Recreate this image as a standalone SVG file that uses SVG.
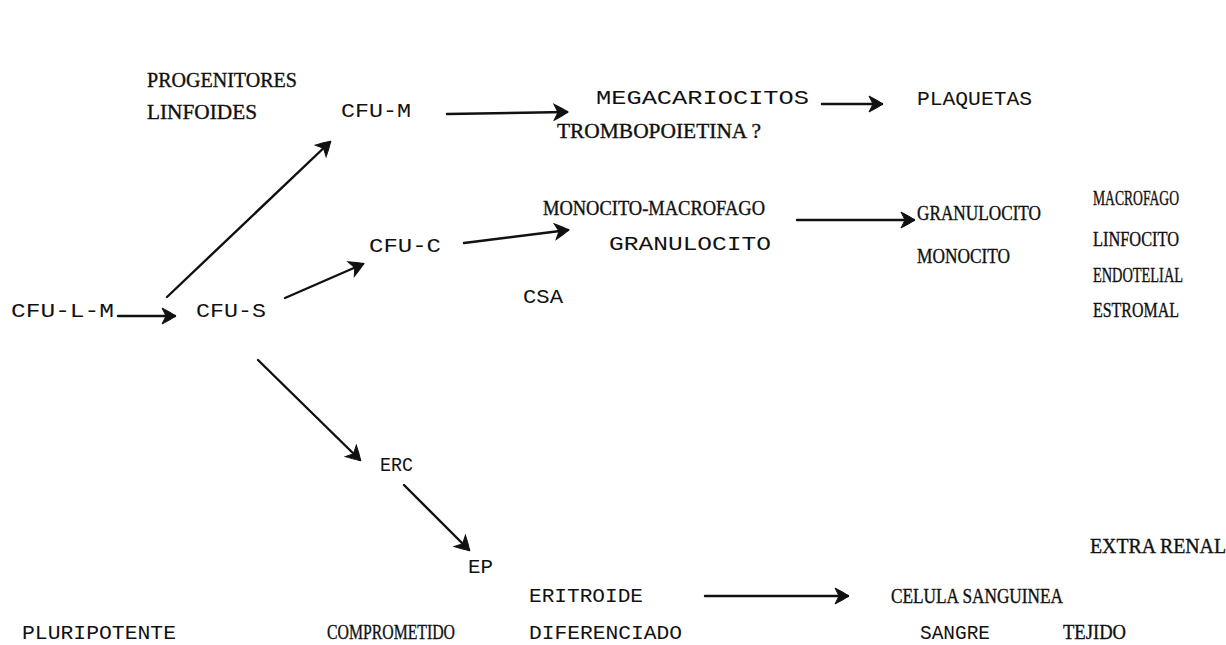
<svg xmlns="http://www.w3.org/2000/svg" width="1226" height="645" viewBox="0 0 1226 645">
<style>
text{font-family:"Liberation Serif","DejaVu Serif",serif;font-size:20px;fill:#111;stroke:#111;stroke-width:0.35;}
.m{font-family:"Liberation Mono","DejaVu Sans Mono",monospace;stroke-width:0;}
.c{stroke:#111;stroke-width:2.4;fill:none;stroke-linecap:round;}
</style>
<defs>
<marker id="ah" viewBox="0 0 18 18" refX="16" refY="9" markerWidth="18" markerHeight="18" markerUnits="userSpaceOnUse" orient="auto">
<path d="M3,1 Q11,5 17,9 Q11,13 3,17 Q5,13 7,9 Q5,5 3,1 Z" fill="#111" stroke="#111" stroke-width="1"/>
</marker>
</defs>
<rect width="1226" height="645" fill="#fff"/>
<g id="connectors">
<line class="c" x1="447" y1="114" x2="567" y2="112" marker-end="url(#ah)"/>
<line class="c" x1="822" y1="104" x2="882" y2="104" marker-end="url(#ah)"/>
<line class="c" x1="464" y1="243" x2="568" y2="230" marker-end="url(#ah)"/>
<line class="c" x1="797" y1="220" x2="914" y2="220" marker-end="url(#ah)"/>
<line class="c" x1="118" y1="316" x2="175" y2="316" marker-end="url(#ah)"/>
<line class="c" x1="167" y1="297" x2="330" y2="142" marker-end="url(#ah)"/>
<line class="c" x1="285" y1="298" x2="363" y2="264" marker-end="url(#ah)"/>
<line class="c" x1="258" y1="360" x2="360" y2="460" marker-end="url(#ah)"/>
<line class="c" x1="404" y1="485" x2="469" y2="550" marker-end="url(#ah)"/>
<line class="c" x1="705" y1="596" x2="848" y2="596" marker-end="url(#ah)"/>
</g>
<g id="progenitores"><text x="147" y="87" textLength="150" lengthAdjust="spacingAndGlyphs">PROGENITORES</text><text x="147" y="119" textLength="110" lengthAdjust="spacingAndGlyphs">LINFOIDES</text></g>
<g id="cfu-m"><text class="m" x="341" y="117" textLength="70" lengthAdjust="spacingAndGlyphs">CFU-M</text></g>
<g id="megacariocitos"><text class="m" x="596" y="104" textLength="213" lengthAdjust="spacingAndGlyphs">MEGACARIOCITOS</text></g>
<g id="plaquetas"><text class="m" x="917" y="105" textLength="115" lengthAdjust="spacingAndGlyphs">PLAQUETAS</text></g>
<g id="trombopoietina"><text x="557" y="138" textLength="204" lengthAdjust="spacingAndGlyphs">TROMBOPOIETINA ?</text></g>
<g id="monocito-macrofago"><text x="543" y="215" textLength="222" lengthAdjust="spacingAndGlyphs">MONOCITO-MACROFAGO</text><text class="m" x="609" y="250" textLength="162" lengthAdjust="spacingAndGlyphs">GRANULOCITO</text></g>
<g id="cfu-c"><text class="m" x="369" y="252" textLength="72" lengthAdjust="spacingAndGlyphs">CFU-C</text></g>
<g id="csa"><text class="m" x="523" y="303" textLength="40" lengthAdjust="spacingAndGlyphs">CSA</text></g>
<g id="granulocito-monocito"><text x="917" y="220" textLength="124" lengthAdjust="spacingAndGlyphs">GRANULOCITO</text><text x="917" y="263" textLength="93" lengthAdjust="spacingAndGlyphs">MONOCITO</text></g>
<g id="tejido-celulas"><text x="1093" y="205" textLength="86" lengthAdjust="spacingAndGlyphs">MACROFAGO</text><text x="1093" y="246" textLength="86" lengthAdjust="spacingAndGlyphs">LINFOCITO</text><text x="1093" y="282" textLength="90" lengthAdjust="spacingAndGlyphs">ENDOTELIAL</text><text x="1093" y="317" textLength="86" lengthAdjust="spacingAndGlyphs">ESTROMAL</text></g>
<g id="cfu-l-m"><text class="m" x="11" y="317" textLength="103" lengthAdjust="spacingAndGlyphs">CFU-L-M</text></g>
<g id="cfu-s"><text class="m" x="196" y="317" textLength="70" lengthAdjust="spacingAndGlyphs">CFU-S</text></g>
<g id="erc"><text class="m" x="380" y="471" textLength="33" lengthAdjust="spacingAndGlyphs">ERC</text></g>
<g id="ep"><text class="m" x="468" y="573" textLength="25" lengthAdjust="spacingAndGlyphs">EP</text></g>
<g id="extra-renal"><text x="1090" y="553" textLength="136" lengthAdjust="spacingAndGlyphs">EXTRA RENAL</text></g>
<g id="eritroide"><text class="m" x="529" y="602" textLength="114" lengthAdjust="spacingAndGlyphs">ERITROIDE</text></g>
<g id="celula-sanguinea"><text x="891" y="603" textLength="172" lengthAdjust="spacingAndGlyphs">CELULA SANGUINEA</text></g>
<g id="etapas"><text class="m" x="22" y="639" textLength="154" lengthAdjust="spacingAndGlyphs">PLURIPOTENTE</text><text x="327" y="639" textLength="128" lengthAdjust="spacingAndGlyphs">COMPROMETIDO</text><text class="m" x="529" y="639" textLength="153" lengthAdjust="spacingAndGlyphs">DIFERENCIADO</text><text class="m" x="920" y="639" textLength="70" lengthAdjust="spacingAndGlyphs">SANGRE</text><text x="1063" y="639" textLength="63" lengthAdjust="spacingAndGlyphs">TEJIDO</text></g>
</svg>
